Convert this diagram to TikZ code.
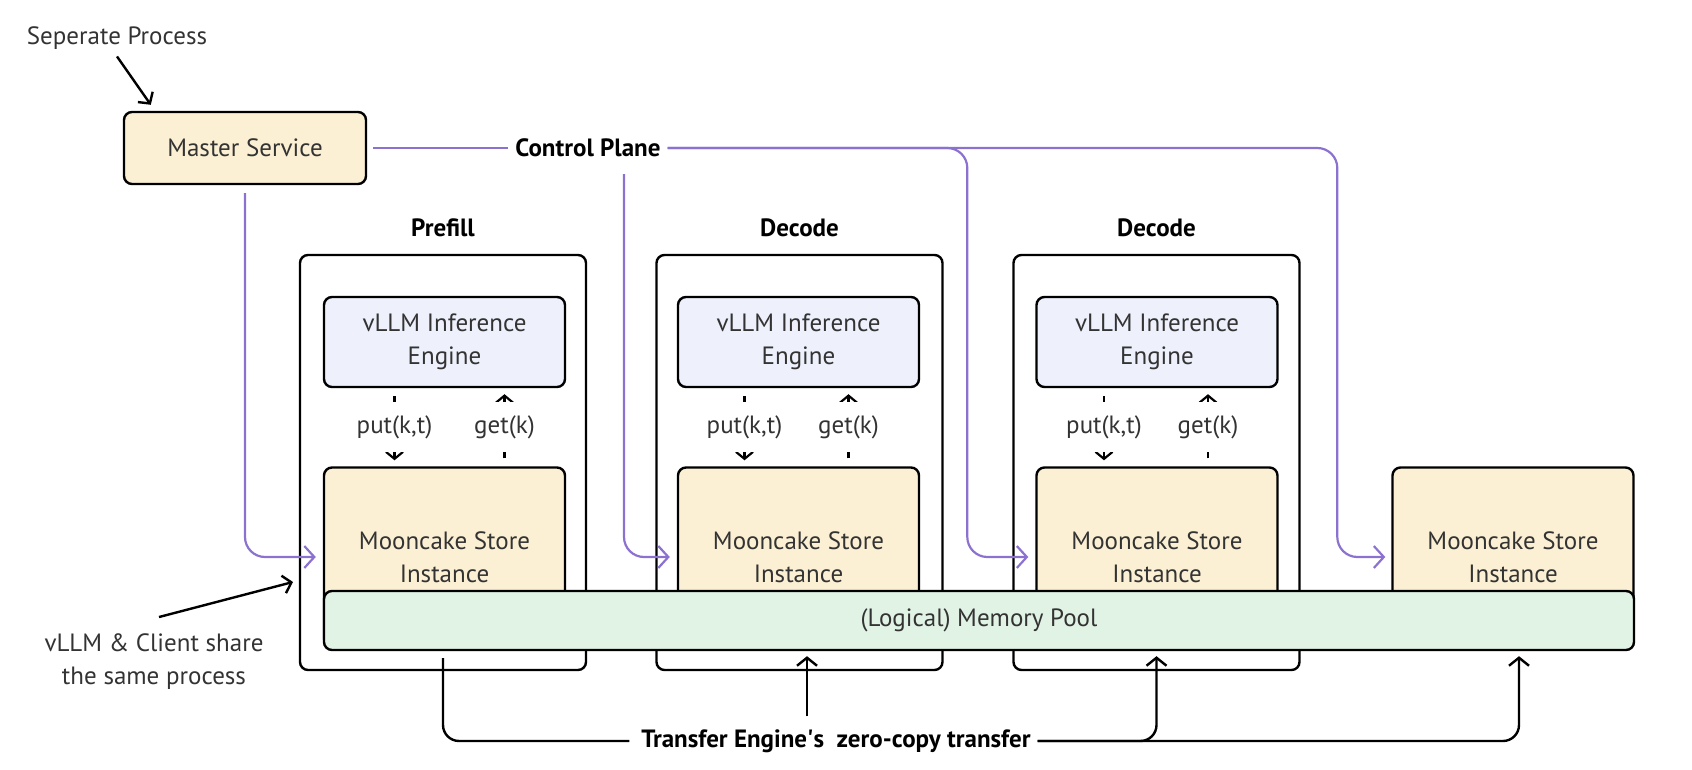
\documentclass[tikz,border=0pt]{standalone}
\usepackage{fontspec}
\setmainfont{PT Sans}
\usepackage{tikz}
\usetikzlibrary{positioning, arrows.meta, calc}
\definecolor{vainilla}{RGB}{252, 240, 212}
\definecolor{lavanda}{RGB}{238, 241, 252}
\definecolor{menta}{RGB}{225, 243, 229}
\definecolor{morado}{RGB}{140, 114, 208}
\definecolor{grafito}{RGB}{51, 51, 51}
\newcommand{\diagfont}{\fontsize{12.5pt}{16.5pt}\selectfont}
\tikzset{
    box/.style={draw, rounded corners=4pt, line width=1.2pt, text=grafito, align=center, inner sep=2pt},
    mast/.style={box, fill=vainilla, minimum width=121pt, minimum height=36pt},
    eng/.style={box, fill=lavanda, minimum width=120.5pt, minimum height=45pt},
    stor/.style={box, fill=vainilla, minimum width=120.5pt, minimum height=89.5pt},
    poolBox/.style={box, fill=menta, minimum width=655pt, minimum height=29.5pt},
    cont/.style={draw, rounded corners=4pt, line width=1.2pt, minimum width=143pt, minimum height=207.5pt},
    tag/.style={font=\diagfont\bfseries, text=black},
    note/.style={text=grafito, align=center},
    hint/.style={-{Straight Barb[length=4pt, width=9pt]}, line width=1.2pt},
    ctrl/.style={-{Straight Barb[length=5pt, width=11pt]}, draw=morado, line width=1.1pt, rounded corners=10pt},
    xfer/.style={-{Straight Barb[length=4pt, width=10pt]}, line width=1.2pt, rounded corners=8pt, shorten >=2.5pt},
    kv/.style={-{Straight Barb[length=3.5pt, width=8.5pt]}, line width=1.1pt, shorten <=4pt, shorten >=3pt},
    kvLbl/.style={fill=white, text=grafito, minimum height=25pt, inner xsep=1pt},
}
\begin{document}
\begin{tikzpicture}[x=0.5pt, y=-0.5pt, font=\diagfont]
    \useasboundingbox (0,0) rectangle (1692,770);

    % master service and control plane
    \node [note] (sep) at (117,38) {Seperate Process};
    \node [mast] (ms) at (245,148) {Master Service};
    \node [tag] (cp) at (588,148) {Control Plane};

    % prefill / decode boxes
    \node [cont] (pre) at (443,462.5) {};
    \node [cont] (dec1) at (799.5,462.5) {};
    \node [cont] (dec2) at (1156.5,462.5) {};
    \node [tag, above=5pt of pre] (preT) {Prefill};
    \node [tag, above=5pt of dec1] (dec1T) {Decode};
    \node [tag, above=5pt of dec2] (dec2T) {Decode};

    \node [eng] (e1) at (444.5,342) {vLLM Inference\\Engine};
    \node [eng] (e2) at (798.5,342) {vLLM Inference\\Engine};
    \node [eng] (e3) at (1157,342) {vLLM Inference\\Engine};

    \node [stor] (s1) at (444.5,557) {Mooncake Store\\Instance};
    \node [stor] (s2) at (798.5,557) {Mooncake Store\\Instance};
    \node [stor] (s3) at (1157,557) {Mooncake Store\\Instance};
    \node [stor] (s4) at (1513,557) {Mooncake Store\\Instance};

    \node [poolBox] (pool) at (979,620.5) {(Logical) Memory Pool};

    \node [note] (cli) at (154,662) {vLLM \& Client share\\the same process};
    \coordinate (cliT) at (293,582);
    \node [tag] (te) at (836,741) {Transfer Engine\textquotesingle s\ \ zero-copy transfer};

    % put / get
    \draw[kv] ([xshift=-25pt]e1.south) -- node[kvLbl] {put(k,t)} ([xshift=-25pt]s1.north);
    \draw[kv] ([xshift=30pt]s1.north) -- node[kvLbl] {get(k)} ([xshift=30pt]e1.south);
    \draw[kv] ([xshift=-27pt]e2.south) -- node[kvLbl] {put(k,t)} ([xshift=-27pt]s2.north);
    \draw[kv] ([xshift=25pt]s2.north) -- node[kvLbl] {get(k)} ([xshift=25pt]e2.south);
    \draw[kv] ([xshift=-26.5pt]e3.south) -- node[kvLbl] {put(k,t)} ([xshift=-26.5pt]s3.north);
    \draw[kv] ([xshift=25.5pt]s3.north) -- node[kvLbl] {get(k)} ([xshift=25.5pt]e3.south);

    % notes
    \draw[hint] (sep.south) -- ([xshift=14pt, yshift=3pt]ms.north west);
    \draw[hint] ([xshift=2.5pt, yshift=5pt]cli.north) -- (cliT);

    % control plane
    \draw[ctrl, -] ([xshift=3pt]ms.east) -- (cp.west);
    \draw[ctrl] ([yshift=-4pt]ms.south) |- ([xshift=-3.5pt]s1.west);
    \draw[ctrl] ([xshift=18pt, yshift=-5pt]cp.south) |- ([xshift=-3.5pt]s2.west);
    \draw[ctrl] (cp.east) -| ([xshift=-34pt]s3.west) -- ([xshift=-3.5pt]s3.west);
    \draw[ctrl] (cp.east) -| ([xshift=-27pt]s4.west) -- ([xshift=-3pt]s4.west);

    % transfer engine
    \draw[xfer, -] ([yshift=-3.5pt]pool.south -| pre.south) |- (te.west);
    \draw[xfer] ([xshift=-14.5pt, yshift=3pt]te.north) -- ([xshift=-14.5pt]te.north |- pool.south);
    \draw[xfer] (te.east) -| (pool.south -| dec2.south);
    \draw[xfer] (te.east) -| ([xshift=3pt]pool.south -| s4.south);
\end{tikzpicture}
\end{document}
